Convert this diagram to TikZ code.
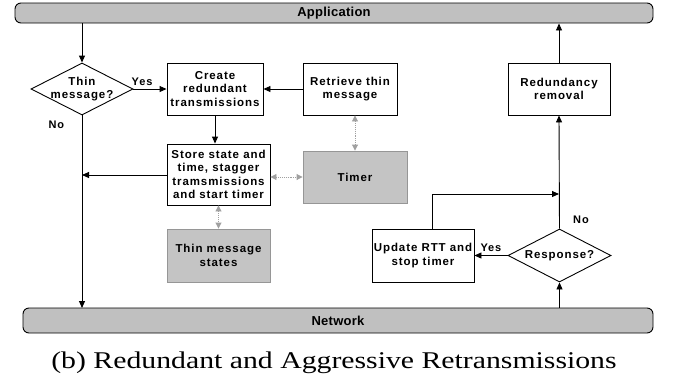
\documentclass[tikz,border=0pt]{standalone}
\usepackage{fontspec}
\setmainfont{Liberation Serif}
\newfontfamily\diagfont[LetterSpace=8]{Liberation Sans}
\newfontfamily\barfont[LetterSpace=2]{Liberation Sans}
\usetikzlibrary{arrows.meta,shapes.geometric}
\definecolor{barfill}{RGB}{192,192,192}
\definecolor{storefill}{RGB}{196,196,196}
\definecolor{storeline}{RGB}{150,150,150}
\definecolor{dotline}{RGB}{160,160,160}
\tikzset{
  lbl/.style={font=\diagfont\bfseries\fontsize{11.5}{13.3}\selectfont, align=center},
  bar/.style={draw, line width=0.9pt, fill=barfill, rounded corners=6pt,
              font=\barfont\bfseries\fontsize{13}{15}\selectfont},
  procbox/.style={draw, line width=0.9pt, fill=white, lbl, inner sep=0pt},
  databox/.style={draw=storeline, line width=0.9pt, fill=storefill, lbl, inner sep=0pt},
  decision/.style={draw, line width=0.9pt, diamond, fill=white, inner sep=0pt},
  flow/.style={line width=0.9pt, -{Triangle[length=7pt,width=6pt]}},
  access/.style={dotline, line width=0.9pt, densely dotted, {Triangle[length=6pt,width=6pt]}-{Triangle[length=6pt,width=6pt]}},
  tag/.style={font=\diagfont\bfseries\fontsize{11}{12}\selectfont}
}
\begin{document}
\begin{tikzpicture}[x=1pt,y=-1pt]
\useasboundingbox (0,0) rectangle (673,381);

% layer bars
\node[bar, minimum width=638pt, minimum height=20pt] (app) at (334,13) {Application};
\node[bar, minimum width=630pt, minimum height=25pt] (net) at (338,320.5) {Network};

% sending side
\node[decision, minimum width=102pt, minimum height=52pt,
      label={[lbl]center:Thin\\message?}] (thin) at (82,89) {};
\node[procbox, minimum width=96pt, minimum height=52pt] (create) at (215,89) {Create\\redundant\\transmissions};
\node[procbox, minimum width=94pt, minimum height=52pt] (retrieve) at (350,89) {Retrieve thin\\message};
\node[procbox, minimum width=103pt, minimum height=61pt] (store) at (218.5,174.5) {Store state and\\time, stagger\\tramsmissions\\and start timer};
\node[databox, minimum width=104pt, minimum height=52pt] (timer) at (355,177) {Timer};
\node[databox, minimum width=103pt, minimum height=53pt] (states) at (218.5,255.5) {Thin message\\states};

% receiving side
\node[procbox, minimum width=102pt, minimum height=52pt] (redund) at (559,89) {Redundancy\\removal};
\node[decision, minimum width=103pt, minimum height=53pt,
      label={[lbl]center:Response?}] (resp) at (559.5,255.5) {};
\node[procbox, minimum width=102pt, minimum height=53pt] (update) at (423,255.5) {Update RTT and\\stop timer};

\coordinate (appin) at (82,23);
\coordinate (nodrop) at (82,308);
\coordinate (storeout) at (82,175);
\coordinate (upturn) at (432,194);
\coordinate (merge) at (559,194);

% control flow
\draw[flow] (appin) -- (thin.north);
\draw[flow] (thin.east) -- node[tag, above, pos=0.26] {Yes} (create.west);
\draw[flow] (thin.south) -- node[tag, pos=0.05, left, xshift=-14pt] {No} (nodrop);
\draw[flow] (retrieve.west) -- (create.east);
\draw[flow] (create.south) -- (create.south |- store.north);
\draw[flow] (store.west |- storeout) -- (storeout);

\draw[flow] (net.north -| resp.south) -- (resp.south);
\draw[flow] (resp.west) -- node[tag, above, pos=0.5] {Yes} (update.east);
\draw[flow] (update.north -| upturn) -- (upturn) -- (merge);
\draw[flow] (resp.north) -- node[tag, pos=0.08, right, xshift=10pt] {No} (redund.south);
\draw[flow] (redund.north) -- (redund.north |- app.south);

% state access
\draw[access] (store.east |- timer.west) -- (timer.west);
\draw[access] (store.south) -- (states.north);
\draw[access] (retrieve.south -| timer.north) -- (timer.north);

% caption
\node[font=\fontsize{24}{28}\selectfont] (cap) at (334,363) {\scalebox{1.24}[1]{(b) Redundant and Aggressive Retransmissions}};
\end{tikzpicture}
\end{document}
